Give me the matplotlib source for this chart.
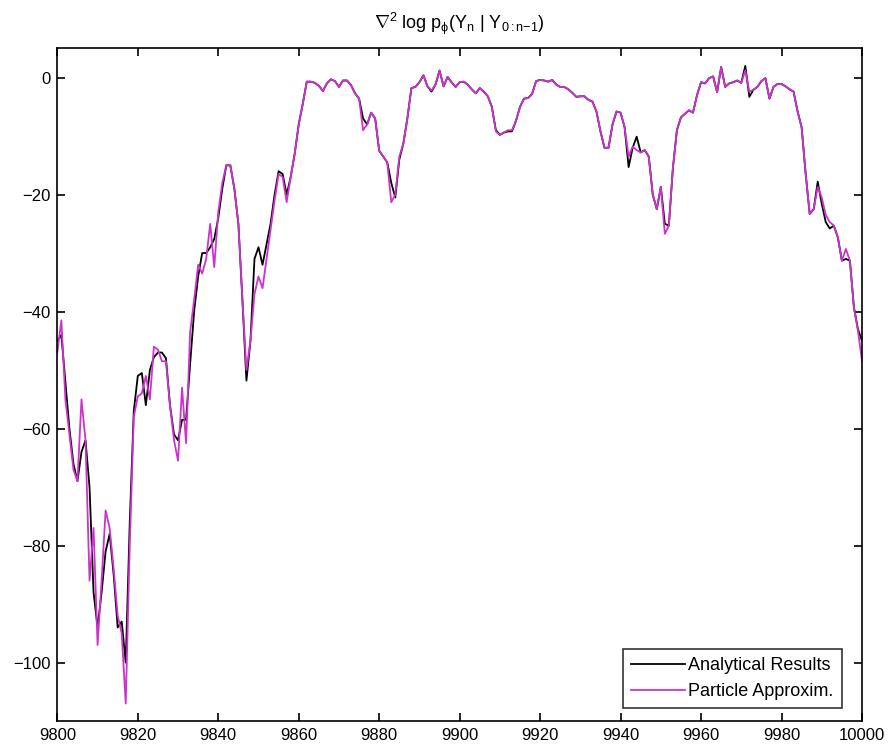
import numpy as np
import matplotlib
matplotlib.use("Agg")
import matplotlib.pyplot as plt

plt.rcParams['font.family'] = ['Liberation Sans', 'DejaVu Sans']
plt.rcParams['mathtext.fontset'] = 'custom'
plt.rcParams['mathtext.rm'] = 'Liberation Sans'
plt.rcParams['mathtext.it'] = 'Liberation Sans'
plt.rcParams['mathtext.sf'] = 'Liberation Sans'

n_index = np.arange(9800, 10001)

analytical = [
    -45, -44, -52, -60, -66, -69, -64, -62, -70, -88,
    -94, -88, -81, -78, -85, -94, -93, -100, -76, -57,
    -51, -50.5, -56, -50, -47.8, -47, -47, -48, -56, -61,
    -62, -58.5, -58.5, -49, -40, -34, -30, -30, -29, -27.6,
    -24, -19, -15, -15, -19, -25, -38, -51.8, -45, -31,
    -29, -32, -28.5, -25, -20, -16, -16.5, -20, -17, -13,
    -8, -4.5, -0.7, -0.7, -0.9, -1.4, -2.3, -1, -0.3, -0.6,
    -1.6, -0.5, -0.5, -1.3, -2.7, -3.6, -7, -8, -6, -7,
    -12.5, -13.5, -14.5, -18, -20.5, -14, -11.3, -7, -1.8, -1.6,
    -0.8, 0.4, -1.5, -2.4, -1.2, 1.2, -1.5, 0.1, -0.8, -1.6,
    -0.8, -0.7, -1.2, -2.0, -2.7, -1.8, -2.4, -3.2, -5, -9,
    -9.8, -9.4, -9.2, -9.2, -7.4, -5, -3.6, -3.5, -2.8, -0.6,
    -0.4, -0.5, -0.7, -0.4, -1.2, -1.6, -1.6, -2.0, -2.6, -3.3,
    -3.2, -3.2, -3.8, -4.1, -5.8, -9.2, -12, -12, -8, -5.8,
    -6, -8.5, -15.3, -12, -10.1, -12.8, -12.4, -13.5, -20, -22.5,
    -18.7, -25, -25.3, -15.5, -9, -6.8, -6.2, -5.6, -6, -3,
    -0.8, -1, -0.1, 0.2, -2.5, 1.8, -1.6, -1, -0.8, -0.5,
    -0.9, 2, -3.3, -2.1, -1.6, -0.6, -0.1, -3.6, -1.6, -1.1,
    -1.1, -1.5, -2, -2.4, -5.8, -8.5, -16.4, -23.3, -22.5, -17.8,
    -21.6, -24.7, -25.8, -25.3, -27.3, -31.3, -31, -31.3, -39.3, -43,
    -45,
]

particle = [
    -47, -41.5, -55, -61, -67, -69, -55, -62, -86, -77,
    -97, -86, -74, -77, -84, -92, -95, -107, -80, -58,
    -54.5, -54, -51, -55, -46, -46.5, -48.5, -48.5, -56, -62,
    -65.5, -53, -62.5, -43.5, -38, -32, -33.5, -31, -25, -32.4,
    -23, -18, -15, -15, -19, -25, -38, -50, -45, -37,
    -34, -36, -31, -26, -21, -16.5, -17, -21.3, -17, -13,
    -8, -4.5, -0.7, -0.7, -0.9, -1.4, -2.3, -1, -0.3, -0.6,
    -1.6, -0.5, -0.5, -1.3, -2.7, -3.6, -9, -8, -6, -7,
    -12.5, -13.5, -14.5, -21.3, -20, -13.5, -11.3, -7, -1.8, -1.6,
    -0.8, 0.4, -1.5, -2.2, -1.2, 1.2, -1.5, 0.1, -0.8, -1.6,
    -0.8, -0.7, -1.2, -2.0, -2.7, -1.8, -2.4, -3.2, -5, -9.2,
    -9.8, -9.4, -9.0, -9.0, -7.4, -5, -3.6, -3.5, -2.8, -0.6,
    -0.4, -0.5, -0.7, -0.4, -1.2, -1.6, -1.6, -2.0, -2.6, -3.3,
    -3.2, -3.2, -3.8, -4.1, -5.8, -9.2, -12, -12, -8, -5.8,
    -6, -8.5, -13.5, -11.8, -12.4, -12.8, -12.4, -13.5, -20, -22.5,
    -18.7, -26.7, -25.3, -15.5, -9, -6.8, -6.2, -5.6, -6, -3,
    -0.8, -1, -0.1, 0.2, -2.5, 1.8, -1.6, -1, -0.8, -0.5,
    -0.9, 1.2, -2.4, -2.1, -1.6, -0.6, -0.1, -3.6, -1.6, -1.1,
    -1.1, -1.5, -2, -2.4, -5.8, -8.5, -16.4, -23.3, -22.5, -18.7,
    -20.5, -23.5, -24.7, -25.3, -27.3, -31.3, -29.3, -31.3, -39.3, -43.3,
    -48.4,
]

x_ticks = [9800, 9820, 9840, 9860, 9880, 9900, 9920, 9940, 9960, 9980, 10000]
y_ticks = [-100, -80, -60, -40, -20, 0]

fig = plt.figure(figsize=(8.89, 7.48), dpi=100)
ax = fig.add_axes([0.0645, 0.0360, 0.9051, 0.8994])

ax.plot(n_index, analytical, color='black', lw=1.3, label='Analytical Results')
ax.plot(n_index, particle, color='#cc33cc', lw=1.3, label='Particle Approxim.')

ax.set_xlim(9800, 10000)
ax.set_ylim(-110, 5)
ax.set_xticks(x_ticks)
ax.set_yticks(y_ticks)
ax.tick_params(direction='in', length=5.5, width=1.2, labelsize=12,
               top=True, right=True, pad=5)
for s in ax.spines.values():
    s.set_linewidth(1.2)

ax.set_title(r'$\nabla^2$ log p$_\phi$(Y$_n$ | Y$_{0{:}n{-}1}$)', fontsize=13, pad=14)

leg = ax.legend(loc='lower right', bbox_to_anchor=(0.975, 0.019), borderaxespad=0,
                fontsize=13, frameon=True, fancybox=False, edgecolor='black',
                handlelength=3.0, handletextpad=0.2, labelspacing=0.5,
                borderpad=0.45)
leg.get_frame().set_linewidth(1.2)

fig.savefig('out.png', dpi=100)
